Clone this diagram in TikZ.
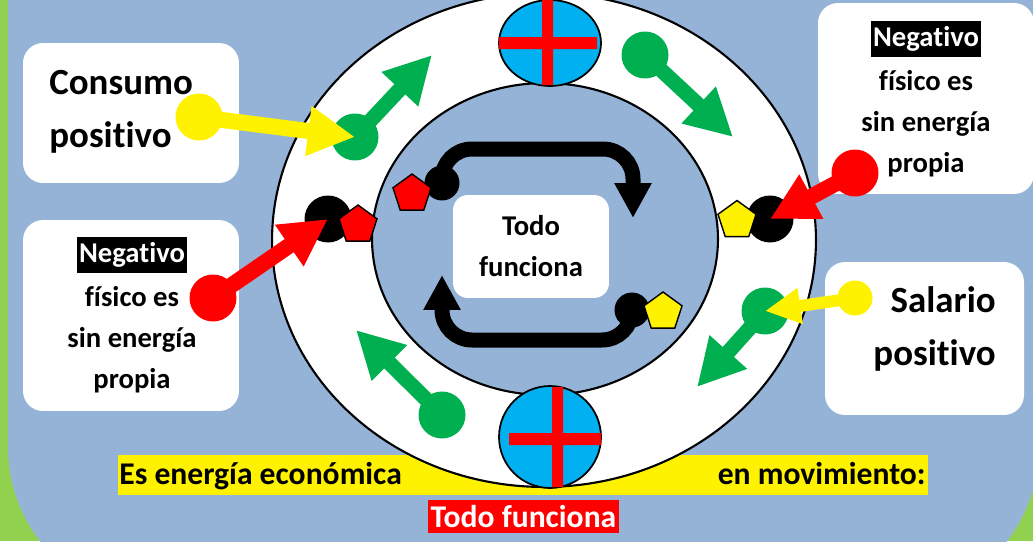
\documentclass[tikz,border=0pt]{standalone}
\usepackage{fontspec}
\setmainfont{Carlito}[Ligatures=NoCommon]
\usetikzlibrary{arrows.meta, positioning, shapes.geometric}
\definecolor{bgblue}{HTML}{95B3D7}
\definecolor{bggreen}{HTML}{92D050}
\definecolor{dotgreen}{HTML}{00B050}
\definecolor{discblue}{HTML}{00B0F0}

\begin{document}
\begin{tikzpicture}[x=0.02cm, y=-0.02cm,
    card/.style={fill=white, rounded corners=0.4cm, inner sep=0pt},
    blob/.style={circle, inner sep=0pt, minimum size=0.94cm},
    smallblob/.style={circle, inner sep=0pt, minimum size=0.7cm},
    penta/.style={regular polygon, regular polygon sides=5, draw=black, line width=0.8pt, inner sep=0pt, minimum size=0.8cm},
    bigarrow/.style={line width=0.3cm, -{Triangle[length=0.94cm, width=0.94cm]}},
    turnarrow/.style={line width=0.3cm, rounded corners=0.6cm, -{Triangle[length=0.7cm, width=0.7cm]}},
    lbl/.style={font=\bfseries\fontsize{16.3}{23.3}\selectfont, align=center, inner sep=0pt},
    bigtext/.style={font=\bfseries\fontsize{21}{30}\selectfont, inner sep=0pt},
    negtag/.style={fill=black, text=white, font=\bfseries\fontsize{16.3}{20}\selectfont, minimum width=2.2cm, minimum height=0.72cm, inner sep=0pt},
    foot/.style={font=\bfseries\fontsize{18}{22}\selectfont, inner sep=0pt}]
  \useasboundingbox (0,0) rectangle (1033,541);
  \clip (0,0) rectangle (1033,541);
  % background
  \fill[bggreen] (0,0) rectangle (1033,541);
  \fill[bgblue, rounded corners=3.08cm] (8,-200) rectangle (1039,601);
  \fill[yellow] (118,455) rectangle (928,495);
  % ring
  \draw[fill=white, line width=1.2pt] (544,240) ellipse [x radius=5.44cm, y radius=4.94cm];
  \draw[fill=bgblue, line width=1.2pt] (545,239) ellipse [x radius=3.46cm, y radius=3.12cm];
  % discs with crosses
  \draw[fill=discblue, line width=1pt] (550,43) ellipse [x radius=1.02cm, y radius=0.86cm];
  \fill[red] (542,0) rectangle (553,85) (499,37) rectangle (597,49);
  \draw[fill=discblue, line width=1pt] (550,437) circle [radius=1.02cm];
  \fill[red] (552,387) rectangle (563,487) (509,433) rectangle (601,445);
  % cards
  \node[card, minimum width=4.32cm, minimum height=2.8cm] (consbox) at (131,113) {};
  \node[card, minimum width=4.32cm, minimum height=3.82cm] (neglbox) at (131,315.5) {};
  \node[card, minimum width=4.32cm, minimum height=3.82cm] (negrbox) at (926,98.5) {};
  \node[card, minimum width=3.98cm, minimum height=3.06cm] (salbox) at (924.5,338.5) {};
  \node[card, lbl, minimum width=3.12cm, minimum height=2.06cm, rounded corners=0.3cm] (todobox) at (531,246.5) {Todo\\funciona};
  % inner loop
  \node[smallblob, fill=black] (ltop) at (442,183) {};
  \node[smallblob, fill=black] (lbot) at (632,310) {};
  \coordinate (ltopend) at (633,218);
  \coordinate (lbotend) at (442,275);
  \draw[turnarrow] (ltop.center) -- ++(0,-34) -| (ltopend);
  \draw[turnarrow] (lbot.center) -- ++(0,30) -| (lbotend);
  \node[penta, fill=red] (pl) at (412,194) {};
  \node[penta, fill=yellow] (pr) at (663,312) {};
  % labels
  \node[bigtext, anchor=west, align=left] (constxt) at (49,112) {Consumo\\positivo};
  \node[bigtext, anchor=east, align=right] (saltxt) at (996,329) {Salario\\positivo};
  \node[negtag] (negl) at (132,255) {Negativo};
  \node[lbl, below=0.26cm of negl] (negltxt) {físico es\\sin energía\\propia};
  \node[negtag] (negr) at (926,39) {Negativo};
  \node[lbl, below=0.26cm of negr] (negrtxt) {físico es\\sin energía\\propia};
  \node[foot, anchor=base west] (es) at (119,484) {Es energía económica};
  \node[foot, anchor=base east] (mov) at (926,484) {en movimiento:};
  \node[foot, fill=red, text=white, minimum width=3.82cm, minimum height=0.66cm] (todored) at (523.5,516.5) {Todo funciona};
  % green flow on the ring
  \node[blob, fill=dotgreen] (g1) at (355,137) {};
  \node[blob, fill=dotgreen] (g2) at (645,55) {};
  \node[blob, fill=dotgreen] (g3) at (765,311) {};
  \node[blob, fill=dotgreen] (g4) at (442,415) {};
  \coordinate (g1e) at (432,55);
  \coordinate (g2e) at (733,137);
  \coordinate (g3e) at (697,387);
  \coordinate (g4e) at (356,330);
  \draw[bigarrow, dotgreen] (g1.center) -- (g1e);
  \draw[bigarrow, dotgreen] (g2.center) -- (g2e);
  \draw[bigarrow, dotgreen] (g3.center) -- (g3e);
  \draw[bigarrow, dotgreen] (g4.center) -- (g4e);
  % black stops
  \node[blob, fill=black] (k1) at (328,219) {};
  \node[blob, fill=black] (k2) at (770,219) {};
  \node[penta, fill=red] (pk1) at (358,225) {};
  \node[penta, fill=yellow] (pk2) at (737,220.5) {};
  % pushes from outside
  \node[blob, fill=yellow] (y1) at (199,117) {};
  \node[smallblob, fill=yellow] (y2) at (855,298) {};
  \node[blob, fill=red] (r1) at (213,298) {};
  \node[blob, fill=red] (r2) at (855,173) {};
  \draw[bigarrow, yellow, line width=0.32cm] (y1.center) -- (g1.center);
  \draw[yellow, line width=0.24cm, -{Triangle[length=0.71cm, width=0.68cm]}] (y2.center) -- (g3.center);
  \draw[bigarrow, red, line width=0.32cm] (r1.center) -- (k1.center);
  \draw[bigarrow, red, line width=0.32cm] (r2.center) -- (k2.center);
\end{tikzpicture}
\end{document}
